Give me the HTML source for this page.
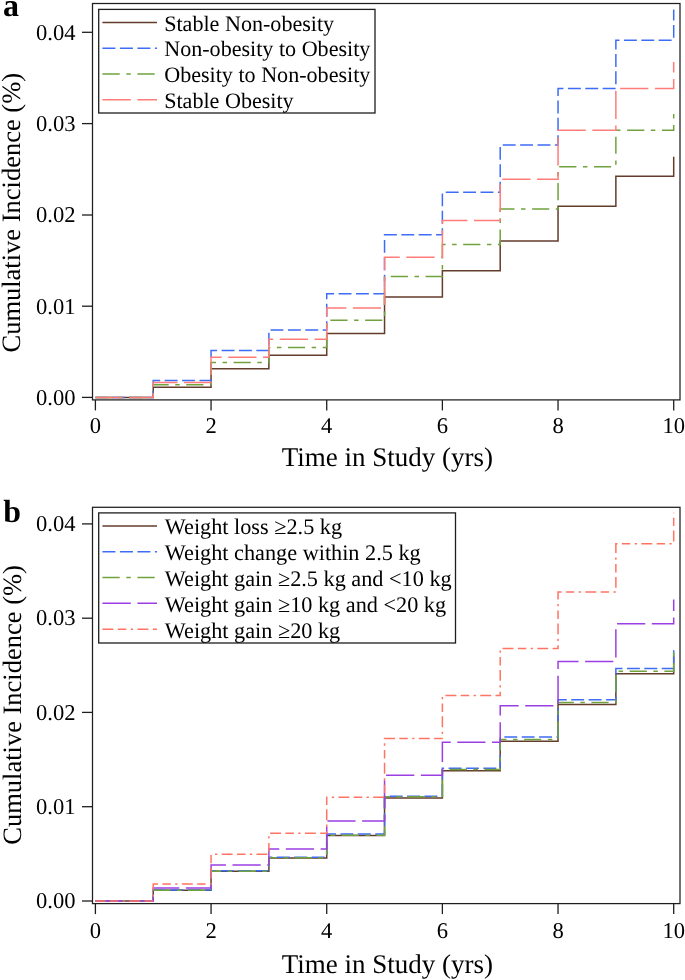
<!DOCTYPE html>
<html><head><meta charset="utf-8"><title>Cumulative Incidence</title>
<style>
html,body{margin:0;padding:0;background:#fff;width:685px;height:980px;overflow:hidden}
svg text{font-family:"Liberation Serif",serif;fill:#000;text-rendering:geometricPrecision}
</style></head><body>
<svg width="685" height="980" viewBox="0 0 685 980" style="position:absolute;left:0;top:0;will-change:transform">
<rect width="685" height="980" fill="#fff"/>
<path d="M95.40,397.40 H153.23 V387.20 H211.06 V368.80 H268.89 V355.20 H326.72 V333.40 H384.55 V296.90 H442.38 V270.70 H500.21 V241.10 H558.04 V206.30 H615.87 V176.20 H673.70 V156.70" fill="none" stroke="#633c2b" stroke-width="1.5"/>
<path d="M95.40,397.40 H153.23 V380.60 H211.06 V350.60 H268.89 V330.00 H326.72 V293.75 H384.55 V234.80 H442.38 V192.30 H500.21 V145.00 H558.04 V88.50 H615.87 V40.20 H673.70 V9.50" fill="none" stroke="#3d6cf6" stroke-width="1.5" stroke-dasharray="12.914 4.470" stroke-dashoffset="0.85"/>
<path d="M95.40,397.40 H153.23 V384.80 H211.06 V362.60 H268.89 V347.40 H326.72 V320.30 H384.55 V276.40 H442.38 V244.50 H500.21 V209.10 H558.04 V166.70 H615.87 V130.30 H673.70 V107.50" fill="none" stroke="#70a23e" stroke-width="1.5" stroke-dasharray="17.186 6.556 4.470 6.556" stroke-dashoffset="0.85"/>
<path d="M95.40,397.40 H153.23 V382.60 H211.06 V357.20 H268.89 V339.20 H326.72 V308.05 H384.55 V257.20 H442.38 V220.50 H500.21 V179.30 H558.04 V130.30 H615.87 V88.50 H673.70 V62.00" fill="none" stroke="#ff7c78" stroke-width="1.5" stroke-dasharray="28.213 6.556" stroke-dashoffset="0.85"/>
<rect x="92.5" y="3.5" width="587.5" height="396.4" fill="none" stroke="#1e1e1e" stroke-width="1.25"/>
<line x1="82" y1="397.4" x2="92.5" y2="397.4" stroke="#1e1e1e" stroke-width="1.3"/>
<text x="75.5" y="404.80" text-anchor="end" font-size="22.6">0.00</text>
<line x1="82" y1="306.2" x2="92.5" y2="306.2" stroke="#1e1e1e" stroke-width="1.3"/>
<text x="75.5" y="313.60" text-anchor="end" font-size="22.6">0.01</text>
<line x1="82" y1="215.0" x2="92.5" y2="215.0" stroke="#1e1e1e" stroke-width="1.3"/>
<text x="75.5" y="222.40" text-anchor="end" font-size="22.6">0.02</text>
<line x1="82" y1="123.6" x2="92.5" y2="123.6" stroke="#1e1e1e" stroke-width="1.3"/>
<text x="75.5" y="131.00" text-anchor="end" font-size="22.6">0.03</text>
<line x1="82" y1="32.3" x2="92.5" y2="32.3" stroke="#1e1e1e" stroke-width="1.3"/>
<text x="75.5" y="39.70" text-anchor="end" font-size="22.6">0.04</text>
<line x1="95.40" y1="399.9" x2="95.40" y2="410.4" stroke="#1e1e1e" stroke-width="1.3"/>
<text x="95.40" y="433.4" text-anchor="middle" font-size="22.6">0</text>
<line x1="211.06" y1="399.9" x2="211.06" y2="410.4" stroke="#1e1e1e" stroke-width="1.3"/>
<text x="211.06" y="433.4" text-anchor="middle" font-size="22.6">2</text>
<line x1="326.72" y1="399.9" x2="326.72" y2="410.4" stroke="#1e1e1e" stroke-width="1.3"/>
<text x="326.72" y="433.4" text-anchor="middle" font-size="22.6">4</text>
<line x1="442.38" y1="399.9" x2="442.38" y2="410.4" stroke="#1e1e1e" stroke-width="1.3"/>
<text x="442.38" y="433.4" text-anchor="middle" font-size="22.6">6</text>
<line x1="558.04" y1="399.9" x2="558.04" y2="410.4" stroke="#1e1e1e" stroke-width="1.3"/>
<text x="558.04" y="433.4" text-anchor="middle" font-size="22.6">8</text>
<line x1="673.70" y1="399.9" x2="673.70" y2="410.4" stroke="#1e1e1e" stroke-width="1.3"/>
<text x="673.70" y="433.4" text-anchor="middle" font-size="22.6">10</text>
<text x="387.3" y="465.9" text-anchor="middle" font-size="27">Time in Study (yrs)</text>
<text transform="translate(19.5,212.75) rotate(-90)" text-anchor="middle" font-size="26.5">Cumulative Incidence (%)</text>
<rect x="98.7" y="9.4" width="276.3" height="103.6" fill="#fff" stroke="#1e1e1e" stroke-width="1.3"/>
<line x1="102.4" y1="22.4" x2="157" y2="22.4" stroke="#633c2b" stroke-width="1.5"/>
<text x="164.2" y="30.50" font-size="22.1">Stable Non-obesity</text>
<line x1="102.4" y1="48.3" x2="157" y2="48.3" stroke="#3d6cf6" stroke-width="1.5" stroke-dasharray="13 4.5"/>
<text x="164.2" y="56.40" font-size="22.1">Non-obesity to Obesity</text>
<line x1="102.4" y1="74.0" x2="157" y2="74.0" stroke="#70a23e" stroke-width="1.5" stroke-dasharray="17.3 6.6 4.5 6.6"/>
<text x="164.2" y="82.10" font-size="22.1">Obesity to Non-obesity</text>
<line x1="102.4" y1="99.7" x2="157" y2="99.7" stroke="#ff7c78" stroke-width="1.5" stroke-dasharray="28.4 6.6"/>
<text x="164.2" y="107.80" font-size="22.1">Stable Obesity</text>
<text x="3.0" y="15.5" font-size="32" font-weight="bold">a</text>
<path d="M95.40,901.00 H153.23 V890.30 H211.06 V871.30 H268.89 V858.00 H326.72 V835.50 H384.55 V798.00 H442.38 V770.80 H500.21 V741.20 H558.04 V704.60 H615.87 V673.70 H673.70 V656.00" fill="none" stroke="#633c2b" stroke-width="1.5"/>
<path d="M95.40,901.00 H153.23 V890.00 H211.06 V870.70 H268.89 V857.30 H326.72 V834.00 H384.55 V796.30 H442.38 V768.30 H500.21 V737.10 H558.04 V699.70 H615.87 V668.50 H673.70 V649.00" fill="none" stroke="#3d6cf6" stroke-width="1.5" stroke-dasharray="12.914 4.470" stroke-dashoffset="0.85"/>
<path d="M95.40,901.00 H153.23 V890.20 H211.06 V871.20 H268.89 V857.70 H326.72 V835.20 H384.55 V796.80 H442.38 V769.40 H500.21 V739.50 H558.04 V702.50 H615.87 V671.20 H673.70 V651.00" fill="none" stroke="#70a23e" stroke-width="1.5" stroke-dasharray="17.186 6.556 4.470 6.556" stroke-dashoffset="0.85"/>
<path d="M95.40,901.00 H153.23 V888.00 H211.06 V865.10 H268.89 V848.90 H326.72 V820.90 H384.55 V775.30 H442.38 V742.20 H500.21 V705.80 H558.04 V661.40 H615.87 V623.80 H673.70 V599.50" fill="none" stroke="#9c3fe2" stroke-width="1.5" stroke-dasharray="28.213 6.556" stroke-dashoffset="0.85"/>
<path d="M95.40,901.00 H153.23 V884.00 H211.06 V854.30 H268.89 V833.20 H326.72 V797.20 H384.55 V738.50 H442.38 V695.60 H500.21 V648.40 H558.04 V592.10 H615.87 V543.80 H673.70 V512.70" fill="none" stroke="#ff7463" stroke-width="1.5" stroke-dasharray="10.927 4.371 8.444 4.371 2.285 4.371" stroke-dashoffset="0.85"/>
<rect x="92.5" y="507.3" width="587.5" height="396.3" fill="none" stroke="#1e1e1e" stroke-width="1.25"/>
<line x1="82" y1="901.0" x2="92.5" y2="901.0" stroke="#1e1e1e" stroke-width="1.3"/>
<text x="75.5" y="908.15" text-anchor="end" font-size="22.6">0.00</text>
<line x1="82" y1="806.7" x2="92.5" y2="806.7" stroke="#1e1e1e" stroke-width="1.3"/>
<text x="75.5" y="813.85" text-anchor="end" font-size="22.6">0.01</text>
<line x1="82" y1="712.4" x2="92.5" y2="712.4" stroke="#1e1e1e" stroke-width="1.3"/>
<text x="75.5" y="719.55" text-anchor="end" font-size="22.6">0.02</text>
<line x1="82" y1="618.2" x2="92.5" y2="618.2" stroke="#1e1e1e" stroke-width="1.3"/>
<text x="75.5" y="625.35" text-anchor="end" font-size="22.6">0.03</text>
<line x1="82" y1="523.9" x2="92.5" y2="523.9" stroke="#1e1e1e" stroke-width="1.3"/>
<text x="75.5" y="531.05" text-anchor="end" font-size="22.6">0.04</text>
<line x1="95.40" y1="903.6" x2="95.40" y2="914.1" stroke="#1e1e1e" stroke-width="1.3"/>
<text x="95.40" y="938.4" text-anchor="middle" font-size="22.6">0</text>
<line x1="211.06" y1="903.6" x2="211.06" y2="914.1" stroke="#1e1e1e" stroke-width="1.3"/>
<text x="211.06" y="938.4" text-anchor="middle" font-size="22.6">2</text>
<line x1="326.72" y1="903.6" x2="326.72" y2="914.1" stroke="#1e1e1e" stroke-width="1.3"/>
<text x="326.72" y="938.4" text-anchor="middle" font-size="22.6">4</text>
<line x1="442.38" y1="903.6" x2="442.38" y2="914.1" stroke="#1e1e1e" stroke-width="1.3"/>
<text x="442.38" y="938.4" text-anchor="middle" font-size="22.6">6</text>
<line x1="558.04" y1="903.6" x2="558.04" y2="914.1" stroke="#1e1e1e" stroke-width="1.3"/>
<text x="558.04" y="938.4" text-anchor="middle" font-size="22.6">8</text>
<line x1="673.70" y1="903.6" x2="673.70" y2="914.1" stroke="#1e1e1e" stroke-width="1.3"/>
<text x="673.70" y="938.4" text-anchor="middle" font-size="22.6">10</text>
<text x="387.3" y="972.7" text-anchor="middle" font-size="27">Time in Study (yrs)</text>
<text transform="translate(21.4,704.95) rotate(-90)" text-anchor="middle" font-size="26.5">Cumulative Incidence (%)</text>
<rect x="98.7" y="512.9" width="356.8" height="130.10000000000002" fill="#fff" stroke="#1e1e1e" stroke-width="1.3"/>
<line x1="102.4" y1="526.1" x2="157" y2="526.1" stroke="#633c2b" stroke-width="1.5"/>
<text x="164.8" y="534.30" font-size="22.25">Weight loss ≥2.5 kg</text>
<line x1="102.4" y1="551.8" x2="157" y2="551.8" stroke="#3d6cf6" stroke-width="1.5" stroke-dasharray="13 4.5"/>
<text x="164.8" y="560.00" font-size="22.25">Weight change within 2.5 kg</text>
<line x1="102.4" y1="577.6" x2="157" y2="577.6" stroke="#70a23e" stroke-width="1.5" stroke-dasharray="17.3 6.6 4.5 6.6"/>
<text x="164.8" y="585.80" font-size="22.25">Weight gain ≥2.5 kg and &lt;10 kg</text>
<line x1="102.4" y1="603.3" x2="157" y2="603.3" stroke="#9c3fe2" stroke-width="1.5" stroke-dasharray="28.4 6.6"/>
<text x="164.8" y="611.50" font-size="22.25">Weight gain ≥10 kg and &lt;20 kg</text>
<line x1="102.4" y1="629.3" x2="157" y2="629.3" stroke="#ff7463" stroke-width="1.5" stroke-dasharray="11 4.4 8.5 4.4 2.3 4.4"/>
<text x="164.8" y="637.50" font-size="22.25">Weight gain ≥20 kg</text>
<text x="3.3" y="522" font-size="32" font-weight="bold">b</text>
</svg>
</body></html>
